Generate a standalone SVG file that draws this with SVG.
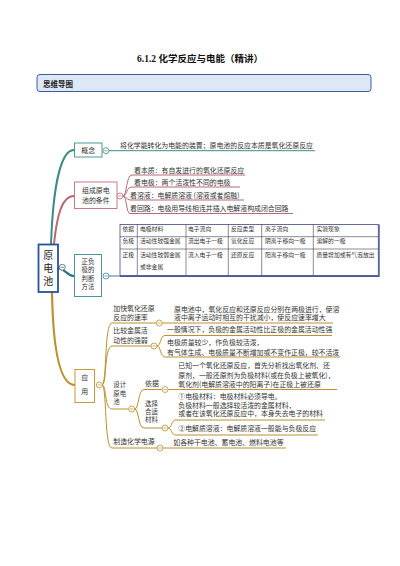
<svg xmlns="http://www.w3.org/2000/svg" width="400" height="566" viewBox="0 0 400 566">
<style>
text{font-family:"Noto Sans CJK SC","Liberation Sans",sans-serif;fill:#333}
.t{font-size:6.9px}
.s{font-size:6.4px}
.tb{font-size:5.8px}
.node{fill:#fff}
.c{fill:#fff;stroke-width:0.8}
.teal{stroke:#3e8c87;fill:none}
.mauve{stroke:#b86a75;fill:none}
.gold{stroke:#bd9030;fill:none}
.ul{stroke-width:1}
.grid{stroke:#3d3d55;stroke-width:0.6;fill:none}
</style>
<rect width="400" height="566" fill="#fff"/>
<text x="200" y="62" text-anchor="middle" style="font-size:9.5px;font-weight:bold;fill:#111"><tspan style="font-family:'Liberation Serif',serif">6.1.2 </tspan> 化学反应与电能（精讲）</text>
<g id="header">
<rect x="37" y="74.5" width="334" height="17" rx="3" fill="#dde7f5" stroke="#3f5d9c" stroke-width="1"/>
<text x="43" y="86.5" style="font-size:7.5px;font-weight:bold;fill:#222">思维导图</text>
</g>
<g id="connectors">
<path class="teal" d="M51,244 C53,190 60,150 74,150" stroke-width="2"/>
<path class="mauve" d="M54,244 C57,215 62,196 74,196" stroke-width="2"/>
<path d="M58,268 C66,269 67,276 74,276" stroke="#2f7485" stroke-width="2.2" fill="none"/>
<path class="gold" d="M52,292 C53,350 60,385 75,385" stroke-width="2.2"/>
<path class="teal ul" d="M109,150.7 H315"/>
<path class="mauve ul" d="M123,196 C127,196 126,175 132,175 H245"/>
<path class="mauve ul" d="M123,196 C127,196 126,187 132,187 H240"/>
<path class="mauve ul" d="M123,196 C127,196 126,200 130,200 H244"/>
<path class="mauve ul" d="M123,196 C127,196 126,213.5 130,213.5 H293"/>
<path d="M109,276 H120" stroke="#3b7f95" stroke-width="1" fill="none"/>
<path class="gold ul" d="M102,385 C107,385 104,323 112,323 H156"/>
<path class="gold ul" d="M162,323 H333"/>
<path class="gold ul" d="M102,385 C107,385 104,346 112,346 H151"/>
<path class="gold ul" d="M157,346 C161,346 160,335.5 165,335.5 H332"/>
<path class="gold ul" d="M157,346 C161,346 160,357 165,357 H340"/>
<path class="gold ul" d="M102,385 C107,385 104,409 112,409 H128.7"/>
<path class="gold ul" d="M134.7,409 C139,409 138,389.5 144,389.5 H162"/>
<path class="gold ul" d="M134.7,409 C139,409 138,428 144,428 H162"/>
<path class="gold ul" d="M168,389.5 H337"/>
<path class="gold ul" d="M168,428 C172,428 171,420 176,420 H325"/>
<path class="gold ul" d="M168,428 C172,428 171,435 176,435 H318"/>
<path class="gold ul" d="M102,385 C107,385 104,448 112,448 H157"/>
<path class="gold ul" d="M163,448 H286"/>
</g>
<g id="main">
<rect x="38.5" y="244.5" width="19.5" height="47.5" fill="#fff" stroke="#2b4f9f" stroke-width="1.8"/>
<text x="48.2" y="250" style="writing-mode:vertical-rl;font-size:10px;letter-spacing:3.3px;fill:#222">原电池</text>
<circle cx="62.3" cy="267.3" r="3" fill="#fff" stroke="#4a5670" stroke-width="0.8"/><path d="M60.6,267.3 H64" stroke="#4a5670" stroke-width="0.7"/>
</g>
<g id="gainian">
<rect x="74.5" y="143" width="27.5" height="14" class="node" stroke="#4a9a95" stroke-width="1"/>
<text x="88.2" y="152.6" text-anchor="middle" class="t">概念</text>
<circle cx="106" cy="150.7" r="3" class="c" stroke="#3e8c87"/><path d="M104.3,150.7 H107.7" stroke="#3e8c87" stroke-width="0.7"/>
<text x="120" y="147.5" class="t">将化学能转化为电能的装置；原电池的反应本质是氧化还原反应</text>
</g>
<g id="zucheng">
<rect x="74.5" y="182" width="42.5" height="26.5" class="node" stroke="#c07c87" stroke-width="1"/>
<text text-anchor="middle" class="t"><tspan x="95.8" y="193">组成原电</tspan><tspan x="95.8" y="203">池的条件</tspan></text>
<circle cx="120" cy="196" r="3" class="c" stroke="#b86a75"/><path d="M118.3,196 H121.7" stroke="#b86a75" stroke-width="0.7"/>
<text x="134" y="172.5" class="t">看本质：有自发进行的氧化还原反应</text>
<text x="134" y="184.8" class="t">看电极：两个活泼性不同的电极</text>
<text x="130" y="197.5" class="t">看溶液：电解质溶液 (溶液或者熔融)</text>
<text x="130" y="211.3" class="t">看回路：电极用导线相连并插入电解液构成闭合回路</text>
</g>
<g id="zhengfu">
<rect x="74.5" y="254.5" width="27" height="42" class="node" stroke="#4f93a3" stroke-width="1"/>
<text text-anchor="middle" class="s"><tspan x="88" y="264">正负</tspan><tspan x="88" y="272.3">极的</tspan><tspan x="88" y="280.6">判断</tspan><tspan x="88" y="289">方法</tspan></text>
<circle cx="106" cy="276" r="3" class="c" stroke="#3b7f95"/><path d="M104.3,276 H107.7" stroke="#3b7f95" stroke-width="0.7"/>
</g>
<g id="table">
<rect x="120" y="224.5" width="258.3" height="51" fill="#fff" stroke="#3d4a80" stroke-width="0.8"/>
<path d="M120,276.2 H379 V224.5" stroke="#4a5c96" stroke-width="1.4" fill="none"/>
<path class="grid" d="M120,236.7 H378.3 M120,249 H378.3 M137.3,224.5 V275.5 M186,224.5 V275.5 M228.3,224.5 V275.5 M261.7,224.5 V275.5 M313.3,224.5 V275.5"/>
<text x="122.5" y="231.2" class="tb">依据</text>
<text x="140" y="231.2" class="tb">电极材料</text>
<text x="188" y="231.2" class="tb">电子流向</text>
<text x="231" y="231.2" class="tb">反应类型</text>
<text x="265" y="231.2" class="tb">离子流向</text>
<text x="316.5" y="231.2" class="tb">实验现象</text>
<text x="122.5" y="243" class="tb">负极</text>
<text x="140" y="243" class="tb">活动性较强金属</text>
<text x="188" y="243" class="tb">流出电子一极</text>
<text x="231" y="243" class="tb">氧化反应</text>
<text x="265" y="243" class="tb">阴离子移向一极</text>
<text x="316.5" y="243" class="tb">溶解的一极</text>
<text x="122.5" y="256.5" class="tb">正极</text>
<text class="tb"><tspan x="140" y="256.5">活动性较弱金属</tspan><tspan x="140" y="268.8">或非金属</tspan></text>
<text x="188" y="256.5" class="tb">流入电子一极</text>
<text x="231" y="256.5" class="tb">还原反应</text>
<text x="265" y="256.5" class="tb">阳离子移向一极</text>
<text x="316.5" y="256.5" class="tb">质量增加或有气泡放出</text>
</g>
<g id="yingyong">
<rect x="75" y="369.5" width="19.5" height="33" class="node" stroke="#c49a3e" stroke-width="1"/>
<text text-anchor="middle" class="t"><tspan x="84.8" y="379.8">应</tspan><tspan x="84.8" y="394.2">用</tspan></text>
<circle cx="99.3" cy="385" r="3" class="c" stroke="#bd9030"/><path d="M97.6,385 H101" stroke="#bd9030" stroke-width="0.7"/>
</g>
<g id="jiakuai">
<text class="t"><tspan x="113.3" y="310.8">加快氧化还原</tspan><tspan x="113.3" y="319.8">反应的速率</tspan></text>
<circle cx="159.3" cy="323" r="3" class="c" stroke="#bd9030"/><path d="M157.6,323 H161" stroke="#bd9030" stroke-width="0.7"/>
<text class="t"><tspan x="174" y="311.5">原电池中，氧化反应和还原反应分别在两极进行，使溶</tspan><tspan x="174" y="320.2">液中离子运动时相互的干扰减小，使反应速率增大</tspan></text>
</g>
<g id="bijiao">
<text class="t"><tspan x="113.3" y="332.5">比较金属活</tspan><tspan x="113.3" y="342.5">动性的强弱</tspan></text>
<circle cx="154" cy="346" r="3" class="c" stroke="#bd9030"/><path d="M152.3,346 H155.7" stroke="#bd9030" stroke-width="0.7"/>
<text x="167" y="332.2" class="t">一般情况下，负极的金属活动性比正极的金属活动性强</text>
<text class="t"><tspan x="167" y="345">电极质量较少，作负极较活泼，</tspan><tspan x="167" y="354.5">有气体生成、电极质量不断增加或不变作正极，较不活泼</tspan></text>
</g>
<g id="sheji">
<text class="s"><tspan x="113.3" y="387.3">设计</tspan><tspan x="113.3" y="395.8">原电</tspan><tspan x="113.3" y="404.3">池</tspan></text>
<circle cx="131.7" cy="409" r="3" class="c" stroke="#bd9030"/><path d="M130,409 H133.4" stroke="#bd9030" stroke-width="0.7"/>
</g>
<g id="yiju">
<text x="145" y="386" class="t">依据</text>
<circle cx="165" cy="389.5" r="3" class="c" stroke="#bd9030"/><path d="M163.3,389.5 H166.7" stroke="#bd9030" stroke-width="0.7"/>
<text class="t"><tspan x="178.3" y="368.2">已知一个氧化还原反应，首先分析找出氧化剂、还</tspan><tspan x="178.3" y="377.5">原剂，一般还原剂为负极材料(或在负极上被氧化)，</tspan><tspan x="178.3" y="386.8">氧化剂(电解质溶液中的阳离子)在正极上被还原</tspan></text>
</g>
<g id="xuanze">
<text class="s"><tspan x="145" y="405.6">选择</tspan><tspan x="145" y="414">合适</tspan><tspan x="145" y="422.4">材料</tspan></text>
<circle cx="165" cy="428" r="3" class="c" stroke="#bd9030"/><path d="M163.3,428 H166.7" stroke="#bd9030" stroke-width="0.7"/>
<text class="t"><tspan x="178.3" y="399.3">①电极材料：电极材料必须导电。</tspan><tspan x="178.3" y="407.8">负极材料一般选择较活泼的金属材料，</tspan><tspan x="178.3" y="416.3">或者在该氧化还原反应中，本身失去电子的材料</tspan></text>
<text x="178.3" y="430.5" class="t">②电解质溶液：电解质溶液一般能与负极反应</text>
</g>
<g id="zhizao">
<text x="113.3" y="444.2" class="t">制造化学电源</text>
<circle cx="160" cy="448" r="3" class="c" stroke="#bd9030"/><path d="M158.3,448 H161.7" stroke="#bd9030" stroke-width="0.7"/>
<text x="173.3" y="444.5" class="t">如各种干电池、蓄电池、燃料电池等</text>
</g>
</svg>
